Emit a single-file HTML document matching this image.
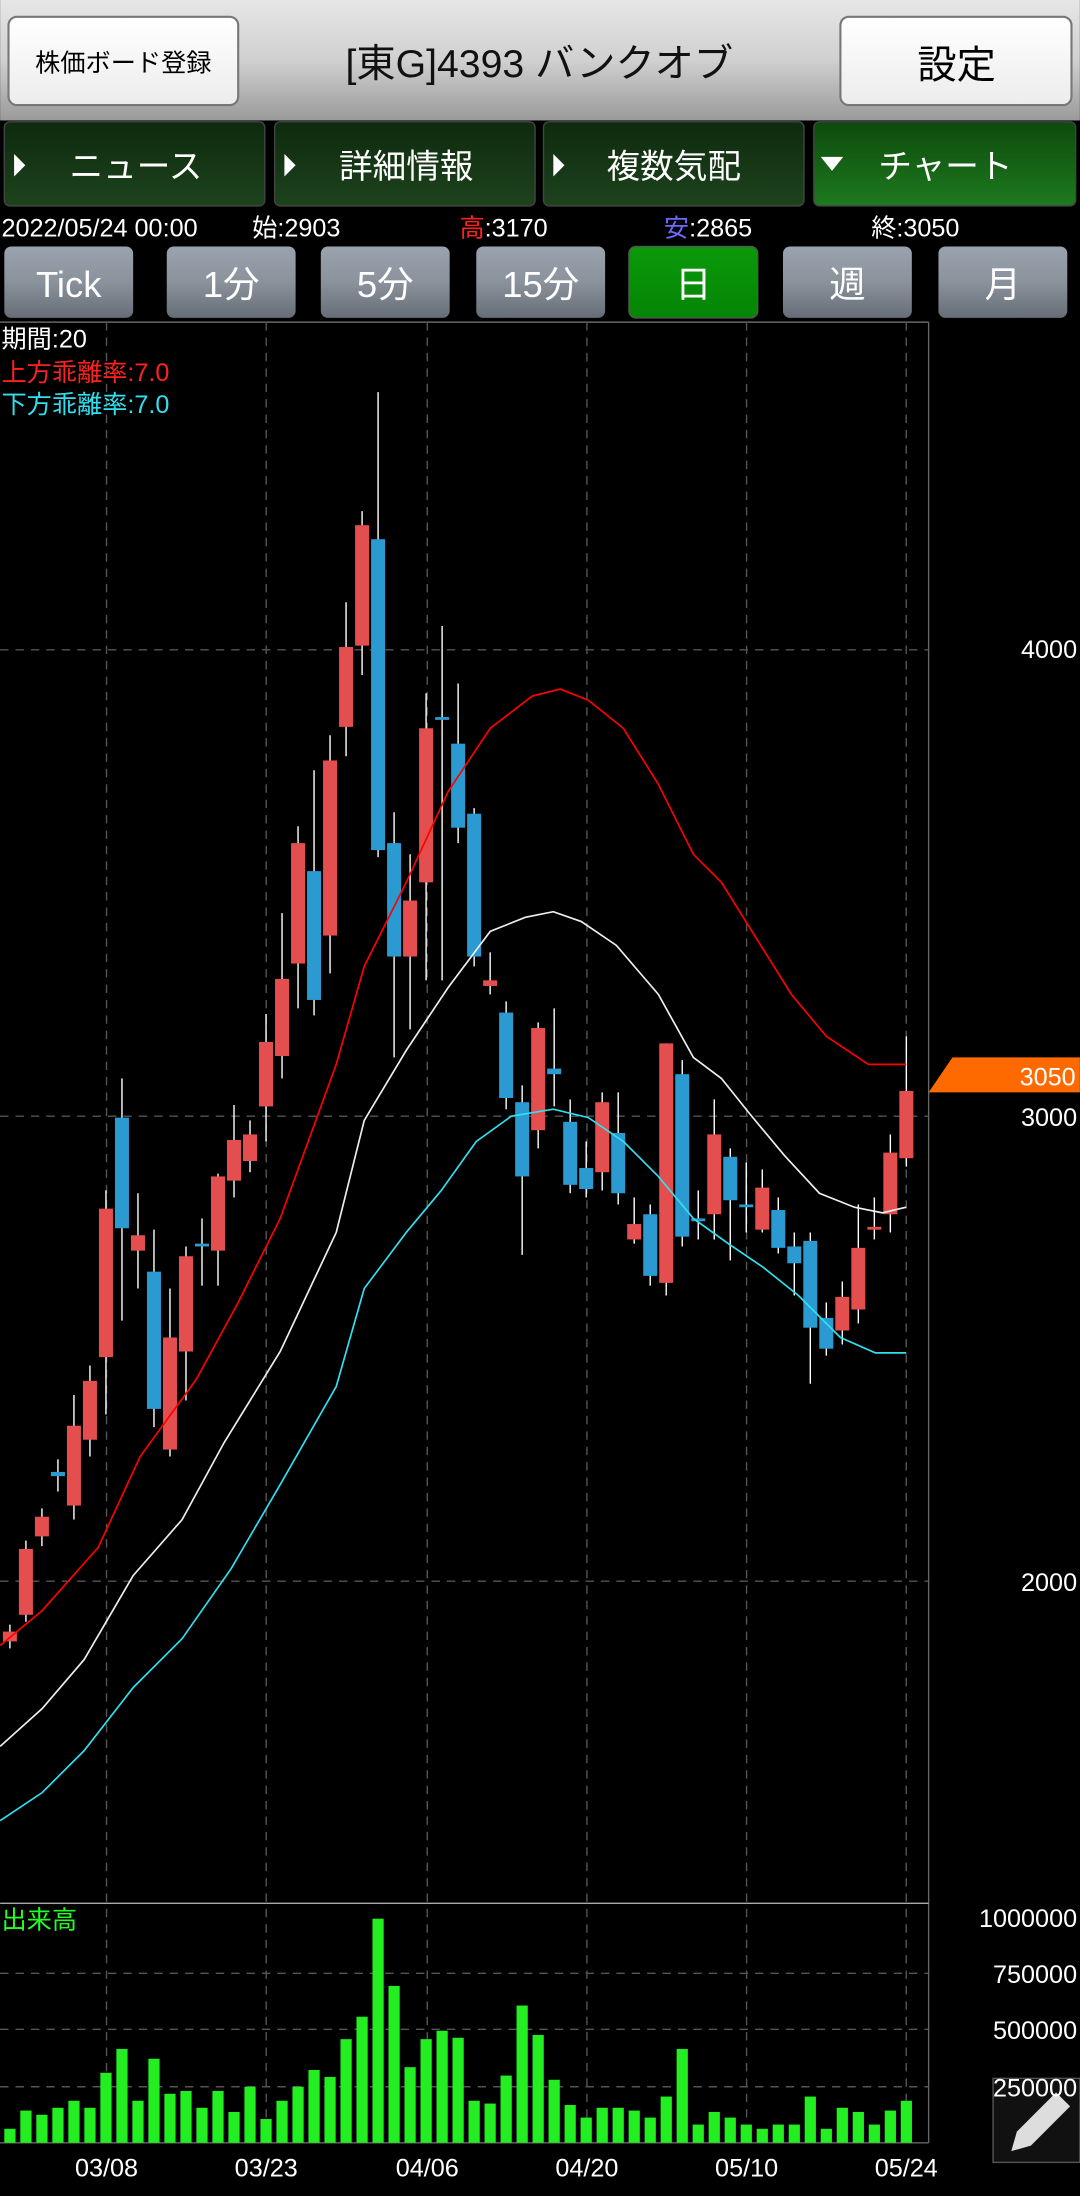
<!DOCTYPE html>
<html><head><meta charset="utf-8">
<style>
html,body{margin:0;padding:0;background:#000;width:1080px;height:2196px;overflow:hidden}
svg{display:block}
text{font-family:"Liberation Sans","Noto Sans CJK JP",sans-serif}
</style></head><body>
<svg id="s" width="1080" height="2196" viewBox="0 0 771 1568" xmlns="http://www.w3.org/2000/svg">
<defs>
<linearGradient id="hdr" x1="0" y1="0" x2="0" y2="1"><stop offset="0" stop-color="#e6e6e6"/><stop offset="0.5" stop-color="#d0d0d0"/><stop offset="1" stop-color="#9a9a9a"/></linearGradient>
<linearGradient id="wb" x1="0" y1="0" x2="0" y2="1"><stop offset="0" stop-color="#fff"/><stop offset="1" stop-color="#ececec"/></linearGradient>
<linearGradient id="tab" x1="0" y1="0" x2="0" y2="1"><stop offset="0" stop-color="#0e2a0e"/><stop offset="1" stop-color="#1d431d"/></linearGradient>
<linearGradient id="tabA" x1="0" y1="0" x2="0" y2="1"><stop offset="0" stop-color="#0d4a0d"/><stop offset="1" stop-color="#1e7a1e"/></linearGradient>
<linearGradient id="pb" x1="0" y1="0" x2="0" y2="1"><stop offset="0" stop-color="#9aa3ae"/><stop offset="0.5" stop-color="#8a929c"/><stop offset="1" stop-color="#666d76"/></linearGradient>
<linearGradient id="pbA" x1="0" y1="0" x2="0" y2="1"><stop offset="0" stop-color="#0a9a0a"/><stop offset="1" stop-color="#058505"/></linearGradient>
</defs>
<rect width="771" height="1568" fill="#000"/>
<rect width="771" height="86" fill="url(#hdr)"/>
<rect x="6" y="12" width="164" height="63" rx="6" fill="url(#wb)" stroke="#777" stroke-width="1.5"/>
<text x="88" y="51" font-size="18" text-anchor="middle" fill="#000">株価ボード登録</text>
<text x="385" y="55" font-size="28" text-anchor="middle" fill="#111">[東G]4393 バンクオブ</text>
<rect x="600" y="12" width="165" height="63" rx="6" fill="url(#wb)" stroke="#777" stroke-width="1.5"/>
<text x="683" y="56" font-size="28" text-anchor="middle" fill="#000">設定</text>
<g font-size="24" fill="#fff" text-anchor="middle">
<rect x="3" y="87" width="186" height="60" rx="4" fill="url(#tab)" stroke="#444"/>
<polygon points="10,110 10,126 18,118" fill="#fff"/><text x="97" y="127">ニュース</text>
<rect x="196" y="87" width="186" height="60" rx="4" fill="url(#tab)" stroke="#444"/>
<polygon points="203,110 203,126 211,118" fill="#fff"/><text x="290" y="127">詳細情報</text>
<rect x="388" y="87" width="186" height="60" rx="4" fill="url(#tab)" stroke="#444"/>
<polygon points="395,110 395,126 403,118" fill="#fff"/><text x="481" y="127">複数気配</text>
<rect x="581" y="87" width="187" height="60" rx="4" fill="url(#tabA)" stroke="#444"/>
<polygon points="586,112 602,112 594,122" fill="#fff"/><text x="675" y="127">チャート</text>
</g>
<g font-size="18" fill="#fff">
<text x="1" y="169">2022/05/24 00:00</text>
<text x="180" y="169">始:2903</text>
<text x="328" y="169"><tspan fill="#ff2020">高</tspan>:3170</text>
<text x="474" y="169"><tspan fill="#6a6aff">安</tspan>:2865</text>
<text x="622" y="169">終:3050</text>
</g>
<g font-size="26" fill="#fff" text-anchor="middle">
<rect x="3" y="176" width="92" height="51" rx="5" fill="url(#pb)"/><text x="49" y="212">Tick</text>
<rect x="119" y="176" width="92" height="51" rx="5" fill="url(#pb)"/><text x="165" y="212">1分</text>
<rect x="229" y="176" width="92" height="51" rx="5" fill="url(#pb)"/><text x="275" y="212">5分</text>
<rect x="340" y="176" width="92" height="51" rx="5" fill="url(#pb)"/><text x="386" y="212">15分</text>
<rect x="449" y="176" width="92" height="51" rx="5" fill="url(#pbA)" stroke="#555"/><text x="495" y="212">日</text>
<rect x="559" y="176" width="92" height="51" rx="5" fill="url(#pb)"/><text x="605" y="212">週</text>
<rect x="670" y="176" width="92" height="51" rx="5" fill="url(#pb)"/><text x="716" y="212">月</text>
</g>
<g stroke="#666" stroke-width="1" fill="none">
<line x1="0" y1="230" x2="663" y2="230"/>
<line x1="663" y1="230" x2="663" y2="1530"/>
<line x1="0" y1="1359" x2="663" y2="1359" stroke="#aaa"/>
<line x1="0" y1="1530" x2="663" y2="1530"/>
</g>
<g stroke="#555" stroke-width="1" stroke-dasharray="6,5" fill="none">
<line x1="76" y1="230" x2="76" y2="1530"/><line x1="190" y1="230" x2="190" y2="1530"/>
<line x1="305" y1="230" x2="305" y2="1530"/><line x1="419" y1="230" x2="419" y2="1530"/>
<line x1="533" y1="230" x2="533" y2="1530"/><line x1="647" y1="230" x2="647" y2="1530"/>
<line x1="0" y1="464" x2="663" y2="464"/><line x1="0" y1="797" x2="663" y2="797"/>
<line x1="0" y1="1129" x2="663" y2="1129"/>
<line x1="0" y1="1409" x2="663" y2="1409"/><line x1="0" y1="1449" x2="663" y2="1449"/>
<line x1="0" y1="1490" x2="663" y2="1490"/>
</g>
<g font-size="18">
<text x="1" y="248" fill="#fff">期間:20</text>
<text x="1" y="272" fill="#ff2020">上方乖離率:7.0</text>
<text x="1" y="295" fill="#30e0f0">下方乖離率:7.0</text>
<text x="1" y="1377" fill="#22ff22">出来高</text>
</g>
<rect x="709" y="1484" width="62" height="60" fill="#111" stroke="#555"/>
<path d="M722,1536 l4,-14 l28,-28 l10,10 l-28,28 z" fill="#ddd"/>
<g font-size="18" fill="#fff" text-anchor="end">
<text x="769" y="470">4000</text><text x="769" y="804">3000</text><text x="769" y="1136">2000</text>
<text x="769" y="1376">1000000</text><text x="769" y="1416">750000</text><text x="769" y="1456">500000</text><text x="769" y="1497">250000</text>
</g>
<polygon points="663,780 680,755 771,755 771,780" fill="#ff6a00"/>
<text x="768" y="775" font-size="18" fill="#fff" text-anchor="end">3050</text>
<g font-size="18" fill="#fff" text-anchor="middle">
<text x="76" y="1554">03/08</text><text x="190" y="1554">03/23</text><text x="305" y="1554">04/06</text>
<text x="419" y="1554">04/20</text><text x="533" y="1554">05/10</text><text x="647" y="1554">05/24</text>
</g>
<g id="c"></g>
<polyline fill="none" stroke="#f00" stroke-width="1.2" points="0,1175 30,1150 70,1105 100,1040 140,985 170,930 200,870 240,760 260,690 290,630 320,565 350,520 380,497 400,492 420,500 445,520 470,560 495,610 515,630 540,670 565,710 590,740 620,760 647,760"/>
<polyline fill="none" stroke="#eee" stroke-width="1.2" points="0,1247 30,1220 60,1185 95,1125 130,1085 160,1030 200,965 240,880 260,800 290,750 320,705 350,665 375,655 395,651 415,658 440,675 470,710 495,755 515,770 535,795 560,825 585,852 610,862 630,866 647,862"/>
<polyline fill="none" stroke="#30e0f0" stroke-width="1.2" points="0,1300 30,1280 60,1250 95,1205 130,1170 165,1120 200,1060 240,990 260,920 290,880 315,850 340,815 365,797 395,792 420,798 445,815 470,840 495,870 520,888 545,905 570,925 600,955 625,966 647,966"/>
</svg>
<script>
var d=[
[1,1165,1172,1160,1177],[1,1106,1153,1100,1158],[1,1083,1097,1077,1104],[0,1051,1054,1042,1065],[1,1018,1075,996,1085],[1,986,1028,975,1040],[1,863,969,850,1010],[0,798,877,770,943],[1,882,893,852,920],[0,908,1006,878,1019],[1,955,1035,920,1040],[1,897,965,890,1000],[0,888,890,870,918],[1,840,893,838,918],[1,814,843,789,855],[1,810,829,800,837],[1,744,790,724,815],[1,699,754,652,770],[1,602,688,590,720],[0,622,714,550,725],[1,543,668,525,695],[1,462,519,430,540],[1,375,461,365,482],[0,385,607,280,612],[0,602,683,580,755],[1,643,683,610,735],[1,520,630,495,700],[0,512,514,447,700],[0,531,591,488,602],[0,581,683,577,690],[1,700,704,680,710],[0,723,784,715,792],[0,787,840,775,896],[1,734,807,730,820],[0,763,767,720,790],[0,801,846,785,852],[0,834,849,815,855],[1,787,837,780,850],[0,809,852,780,860],[1,874,885,855,888],[0,867,911,860,918],[1,745,916,745,925],[0,767,883,757,890],[0,870,872,850,885],[1,810,867,785,885],[0,826,857,820,900],[0,860,862,830,880],[1,848,878,835,880],[0,864,891,855,895],[0,890,902,880,925],[0,886,948,880,988],[0,941,963,930,968],[1,926,950,915,960],[1,891,935,860,945],[1,876,878,855,885],[1,823,867,810,880],[1,779,827,740,833]];
var v=[1520,1507,1510,1505,1500,1505,1480,1463,1500,1470,1495,1493,1505,1493,1508,1490,1513,1500,1490,1478,1483,1456,1440,1370,1418,1476,1456,1450,1455,1500,1502,1482,1432,1453,1485,1503,1512,1505,1505,1507,1512,1497,1463,1517,1508,1512,1517,1520,1517,1517,1497,1520,1505,1508,1517,1507,1500];
var h='';
for(var i=0;i<d.length;i++){var x=7+i*11.43,c=d[i],col=c[0]?'#e54e4e':'#2a9ad0';
h+='<line x1="'+x+'" y1="'+c[3]+'" x2="'+x+'" y2="'+c[4]+'" stroke="#fff" stroke-width="1"/>';
h+='<rect x="'+(x-5)+'" y="'+c[1]+'" width="10" height="'+Math.max(2,c[2]-c[1])+'" fill="'+col+'"/>';
h+='<rect x="'+(x-4)+'" y="'+v[i]+'" width="8" height="'+(1530-v[i])+'" fill="#22ee22"/>';}
document.getElementById('c').innerHTML=h;
</script>
</body></html>
